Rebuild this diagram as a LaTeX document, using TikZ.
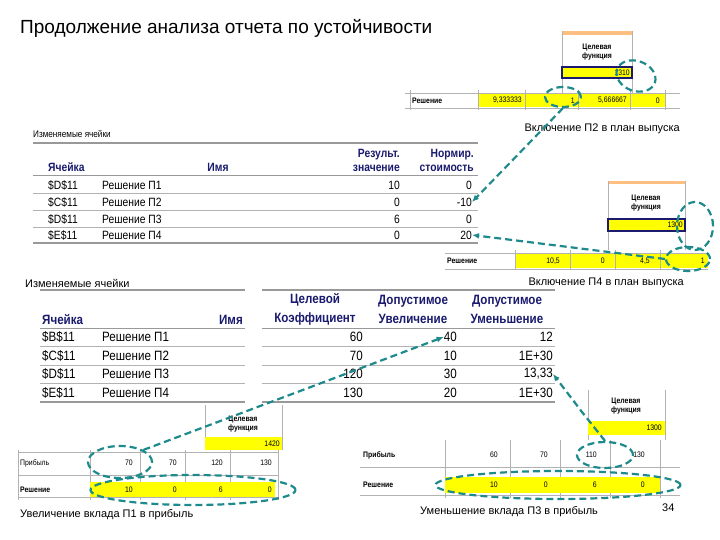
\documentclass[tikz,border=0pt]{standalone}
\usepackage{fontspec}
\setmainfont{Liberation Sans}
\newfontfamily\narrowf[FakeStretch=0.86]{Liberation Sans}
\usetikzlibrary{shapes.geometric,arrows.meta}
\definecolor{teal2}{HTML}{1E8A8C}
\definecolor{hdr}{HTML}{1A1A6E}
\definecolor{ylw}{HTML}{FFFF00}
\tikzset{
 tt/.style={font=\narrowf\fontsize{9.5}{10}\selectfont, inner sep=0pt},
 sm/.style={font=\narrowf\fontsize{8}{9}\selectfont, inner sep=0pt},
 smb/.style={font=\narrowf\bfseries\fontsize{8}{9}\selectfont, inner sep=0pt},
 tb/.style={font=\narrowf\fontsize{13.5}{14}\selectfont, inner sep=0pt},
 th/.style={font=\narrowf\bfseries\fontsize{13.5}{19}\selectfont, text=hdr, inner sep=0pt, align=center},
 ts/.style={font=\narrowf\fontsize{12}{12}\selectfont, inner sep=0pt},
 tsh/.style={font=\narrowf\bfseries\fontsize{12}{14}\selectfont, text=hdr, inner sep=0pt, align=center},
 captxt/.style={font=\fontsize{11}{12}\selectfont, inner sep=0pt},
 rule/.style={draw=gray!80, line width=1.5pt},
 thin/.style={draw=gray!60, line width=0.5pt},
 loop/.style={ellipse, draw=teal2, dashed, dash pattern=on 7pt off 4pt, line width=2.2pt, fill=none},
 arr/.style={draw=teal2, dash pattern=on 7pt off 4pt, line width=2.2pt, -{Latex[length=7pt,width=6pt]}},
}
\begin{document}
\begin{tikzpicture}[x=1pt,y=-1pt]
\useasboundingbox (0,0) rectangle (720,540);
\node[anchor=west,inner sep=0pt,font=\fontsize{19}{22}\selectfont] (title) at (20,28) {Продолжение анализа отчета по устойчивости};

% ---------- sheet 1 ----------
\fill[orange!50] (562,31) rectangle (632,35);
\draw[thin] (562,31) -- (562,93) (632,31) -- (632,93);
\node[smb,align=center] (h1) at (597,52) {Целевая\\функция};
\fill[ylw] (562,67) rectangle (632,78);
\draw[hdr,line width=1.2pt] (562,67) rectangle (632,78);
\node[sm,anchor=east] (v1) at (630,72.5) {1310};
\draw[thin] (405,93) -- (680,93) (405,108) -- (680,108);
\fill[ylw] (478,94) rectangle (665,107);
\foreach \x in {410,478,525,578,630,665} \draw[thin] (\x,90) -- (\x,110);
\node[smb,anchor=west] (r1) at (412,100.5) {Решение};
\node[sm,anchor=east] (a1) at (522,100.5) {9,333333};
\node[sm,anchor=east] (b1) at (575,100.5) {1};
\node[sm,anchor=east] (c1) at (627,100.5) {5,666667};
\node[sm,anchor=east] (d1) at (660,100.5) {0};
\node[loop,minimum width=36pt,minimum height=20pt] (e1) at (563,97) {};
\node[loop,minimum width=40pt,minimum height=30pt,rotate=-20] (e1b) at (636,76) {};
\node[captxt,anchor=east] (c1t) at (680,129) {Включение П2 в план выпуска};

% ---------- table 1 ----------
\node[tt,anchor=west] (t1) at (33,134) {Изменяемые ячейки};
\draw[rule] (33,143) -- (478,143);
\node[tsh,anchor=east,align=right] (hres) at (400,160) {Результ.\\значение};
\node[tsh,anchor=east,align=right] (hnorm) at (474,160) {Нормир.\\стоимость};
\node[tsh,anchor=west] (hcell) at (48,167) {Ячейка};
\node[tsh] (hname) at (218,167) {Имя};
\draw[rule,line width=1pt] (33,176) -- (478,176);
\foreach \y/\c/\n/\v/\s [count=\i] in {185/\$D\$11/Решение П1/10/0, 202/\$C\$11/Решение П2/0/-10, 219/\$D\$11/Решение П3/6/0, 235/\$E\$11/Решение П4/0/20}{
  \node[ts,anchor=west] (ca\i) at (48,\y) {\c};
  \node[ts,anchor=west] (na\i) at (102,\y) {\n};
  \node[ts,anchor=east] (va\i) at (400,\y) {\v};
  \node[ts,anchor=east] (sa\i) at (472,\y) {\s};
}
\foreach \y in {193.5,210.5,227} \draw[thin] (33,\y) -- (478,\y);
\draw[rule] (33,243) -- (478,243);

% ---------- sheet 2 ----------
\fill[orange!50] (608,181) rectangle (685,184);
\draw[thin] (608,181) -- (608,250) (685,181) -- (685,250);
\node[smb,align=center] (h2) at (646,203) {Целевая\\функция};
\fill[ylw] (608,219) rectangle (685,231);
\draw[hdr,line width=1.2pt] (608,219) rectangle (685,231);
\node[sm,anchor=east] (v2) at (683,225) {1300};
\draw[thin] (445,253) -- (708,253) (445,269) -- (708,269);
\fill[ylw] (515,254) rectangle (708,268);
\foreach \x in {515,570,615,660} \draw[thin] (\x,250) -- (\x,270);
\node[smb,anchor=west] (r2) at (447,261) {Решение};
\node[sm,anchor=east] (a2) at (560,261) {10,5};
\node[sm,anchor=east] (b2) at (605,261) {0};
\node[sm,anchor=east] (c2) at (650,261) {4,5};
\node[sm,anchor=east] (d2) at (705,261) {1};
\node[loop,minimum width=44pt,minimum height=24pt] (e2) at (688,259) {};
\node[loop,minimum width=36pt,minimum height=48pt] (e2b) at (695,226) {};
\node[captxt,anchor=east] (c2t) at (684,283) {Включение П4 в план выпуска};

% ---------- table 2 ----------
\node[captxt,anchor=west] (t2) at (25,283) {Изменяемые ячейки};
\draw[rule] (40,290) -- (245,290) (262,290) -- (555,290);
\node[th] (hk) at (315,309) {Целевой\\Коэффициент};
\node[th] (hu) at (413,309) {Допустимое\\Увеличение};
\node[th] (hd) at (507,309) {Допустимое\\Уменьшение};
\node[th,anchor=west] (hc2) at (42,320) {Ячейка};
\node[th,anchor=east] (hn2) at (243,320) {Имя};
\draw[rule,line width=1pt] (40,328) -- (245,328) (262,328) -- (555,328);
\foreach \y/\c/\n/\k/\u/\d [count=\i] in {337/\$B\$11/Решение П1/60/40/12, 356/\$C\$11/Решение П2/70/10/1E+30, 374/\$D\$11/Решение П3/120/30/{13,33}, 393/\$E\$11/Решение П4/130/20/1E+30}{
  \node[tb,anchor=west] (cb\i) at (42,\y) {\c};
  \node[tb,anchor=west] (nb\i) at (102,\y) {\n};
  \node[tb,anchor=east] (kb\i) at (363,\y) {\k};
  \node[tb,anchor=east] (ub\i) at (457,\y) {\u};
  \node[tb,anchor=east] (db\i) at (553,\y) {\d};
}
\foreach \y in {346.5,365,383.5} \draw[thin] (40,\y) -- (245,\y) (262,\y) -- (555,\y);
\draw[rule] (40,402) -- (245,402) (262,402) -- (555,402);

% ---------- sheet 3 ----------
\draw[thin] (205,405) -- (205,450) (282,405) -- (282,450);
\node[smb,align=center] (h3) at (243,424) {Целевая\\функция};
\fill[ylw] (205,437) rectangle (282,450);
\node[sm,anchor=east] (v3) at (280,443.5) {1420};
\draw[thin] (18,452) -- (278,452) (18,475) -- (278,475) (18,497) -- (278,497);
\foreach \x in {18,90,140,185,230,278} \draw[thin] (\x,450) -- (\x,500);
\fill[ylw] (90,482) rectangle (275,497);
\node[sm,anchor=west] (p3) at (20,463) {Прибыль};
\node[smb,anchor=west] (r3) at (20,490) {Решение};
\foreach \x/\p/\s [count=\i] in {133/70/10,177/70/0,223/120/6,272/130/0}{
  \node[sm,anchor=east] (pp\i) at (\x,463) {\p};
  \node[sm,anchor=east] (ss\i) at (\x,490) {\s};
}
\node[loop,minimum width=64pt,minimum height=32pt] (e3) at (120,462) {};
\node[loop,minimum width=205pt,minimum height=30pt] (e3b) at (193,490) {};
\node[captxt,anchor=west] (c3t) at (20,515) {Увеличение вклада П1 в прибыль};

% ---------- sheet 4 ----------
\draw[thin] (588,390) -- (588,440) (665,390) -- (665,440);
\node[smb,align=center] (h4) at (626,406) {Целевая\\функция};
\fill[ylw] (588,421) rectangle (665,435);
\node[sm,anchor=east] (v4) at (662,428) {1300};
\draw[thin] (360,467) -- (680,467) (360,495) -- (680,495);
\foreach \x in {445,510,560,610,660} \draw[thin] (\x,440) -- (\x,498);
\fill[ylw] (445,477) rectangle (660,493);
\node[smb,anchor=west] (p4) at (363,455) {Прибыль};
\node[smb,anchor=west] (r4) at (363,485) {Решение};
\foreach \x/\p/\s [count=\i] in {498/60/10,548/70/0,597/110/6,645/130/0}{
  \node[sm,anchor=east] (pq\i) at (\x,455) {\p};
  \node[sm,anchor=east] (sq\i) at (\x,485) {\s};
}
\node[loop,minimum width=56pt,minimum height=26pt] (e4) at (605,455) {};
\node[loop,minimum width=245pt,minimum height=28pt] (e4b) at (558,485) {};
\node[captxt,anchor=west] (c4t) at (420,512) {Уменьшение вклада П3 в прибыль};
\node[captxt,anchor=west] (pg) at (662,508) {34};

% ---------- arrows ----------
\draw[arr] (e1.south) -- (sa2.east);
\draw[arr] (e2.west) -- (sa4.east);
\draw[arr] (e3.north east) -- (ub1.west);
\coordinate (k4) at (582,412);
\draw[arr] (e4.north) -- (k4) -- (db3.east);
\end{tikzpicture}
\end{document}
